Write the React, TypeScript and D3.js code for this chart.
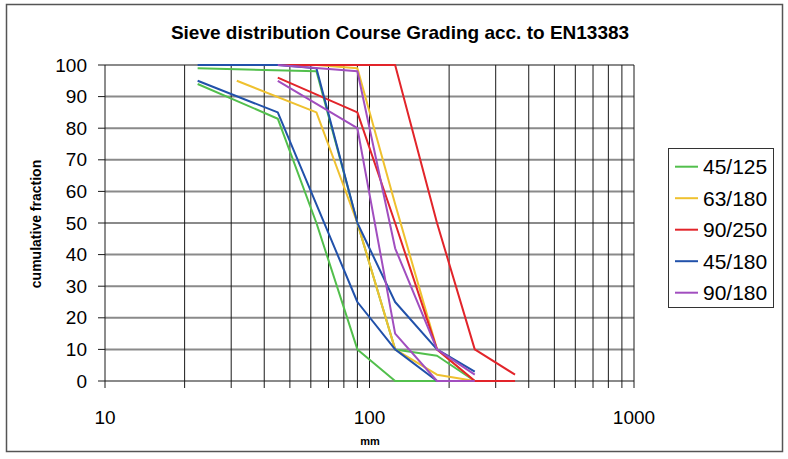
import React, { useRef, useEffect } from 'react';
import * as d3 from 'd3';

type Punto = [number, number];

// sieve size (mm) / cumulative fraction (%)
const cp45_125Inferior: Punto[] = [[22.4, 94], [45, 83], [63, 50], [90, 10], [125, 0], [180, 0]];
const cp45_125Superior: Punto[] = [[22.4, 99], [63, 98], [90, 50], [125, 10], [180, 8], [250, 0]];
const cp63_180Inferior: Punto[] = [[31.5, 95], [63, 85], [90, 50], [125, 10], [180, 2], [250, 0]];
const cp63_180Superior: Punto[] = [[31.5, 100], [63, 100], [90, 99], [125, 56], [180, 10], [250, 0]];
const cp90_250Inferior: Punto[] = [[45, 96], [90, 85], [125, 50], [180, 10], [250, 0], [355, 0]];
const cp90_250Superior: Punto[] = [[45, 100], [125, 100], [180, 50], [250, 10], [355, 2]];
const cp45_180Inferior: Punto[] = [[22.4, 95], [45, 85], [90, 25], [125, 10], [180, 0]];
const cp45_180Superior: Punto[] = [[22.4, 100], [45, 100], [63, 99], [90, 50], [125, 25], [180, 10], [250, 3]];
const cp90_180Inferior: Punto[] = [[45, 95], [90, 80], [125, 15], [180, 0], [250, 0]];
const cp90_180Superior: Punto[] = [[45, 100], [90, 98], [125, 42], [180, 10], [250, 2]];

const nombres = ['45/125', '63/180', '90/250', '45/180', '90/180'];
const colores = ['#52bf4c', '#efc12f', '#e2242a', '#2151aa', '#a14ebf'];
const curvas = [
  [cp45_125Inferior, cp45_125Superior],
  [cp63_180Inferior, cp63_180Superior],
  [cp90_250Inferior, cp90_250Superior],
  [cp45_180Inferior, cp45_180Superior],
  [cp90_180Inferior, cp90_180Superior],
];

const yTicks = [0, 10, 20, 30, 40, 50, 60, 70, 80, 90, 100];
const xEtiquetas = [10, 100, 1000];

const fuente = '"Liberation Sans", Arial, sans-serif';

const App: React.FC = () => {
  const svgRef = useRef<SVGSVGElement | null>(null);

  useEffect(() => {
    if (!svgRef.current) return;
    const width = 788;
    const height = 459;

    const svg = d3.select<SVGSVGElement, unknown>(svgRef.current)
      .attr('width', width)
      .attr('height', height)
      .style('background', '#fff');
    svg.selectAll('*').remove();

    const x = d3.scaleLog().domain([10, 1000]).range([105, 634]);
    const y = d3.scaleLinear().domain([0, 100]).range([381, 65]);

    // frame
    svg.append('rect')
      .attr('x', 6.5).attr('y', 4.5)
      .attr('width', 776).attr('height', 447)
      .attr('fill', 'none').attr('stroke', '#555').attr('stroke-width', 1.5);

    svg.append('text')
      .attr('x', 400).attr('y', 32)
      .attr('text-anchor', 'middle').attr('dominant-baseline', 'central')
      .style('font-family', fuente).style('font-size', '19px').style('font-weight', 'bold')
      .text('Sieve distribution Course Grading acc. to EN13383');

    // horizontal grid
    svg.append('g').selectAll('line')
      .data(yTicks)
      .enter().append('line')
      .attr('x1', x(10)).attr('x2', x(1000))
      .attr('y1', (d) => y(d)).attr('y2', (d) => y(d))
      .attr('stroke', '#8a8a8a').attr('stroke-width', 2);

    // vertical grid
    svg.append('g').selectAll('line')
      .data(x.ticks())
      .enter().append('line')
      .attr('x1', (d) => x(d)).attr('x2', (d) => x(d))
      .attr('y1', y(100)).attr('y2', y(0) + 7)
      .attr('stroke', '#1a1a1a').attr('stroke-width', 1);

    // y ticks
    svg.append('g').selectAll('line')
      .data(yTicks)
      .enter().append('line')
      .attr('x1', x(10) - 7).attr('x2', x(10))
      .attr('y1', (d) => y(d)).attr('y2', (d) => y(d))
      .attr('stroke', '#1a1a1a').attr('stroke-width', 1);

    svg.append('g').selectAll('text')
      .data(yTicks)
      .enter().append('text')
      .attr('x', 87).attr('y', (d) => y(d))
      .attr('text-anchor', 'end').attr('dominant-baseline', 'central')
      .style('font-family', fuente).style('font-size', '19px')
      .text((d) => d);

    svg.append('g').selectAll('text')
      .data(xEtiquetas)
      .enter().append('text')
      .attr('x', (d) => x(d)).attr('y', 417)
      .attr('text-anchor', 'middle').attr('dominant-baseline', 'central')
      .style('font-family', fuente).style('font-size', '19px')
      .text((d) => d);

    svg.append('text')
      .attr('x', 370).attr('y', 441)
      .attr('text-anchor', 'middle').attr('dominant-baseline', 'central')
      .style('font-family', fuente).style('font-size', '11px').style('font-weight', 'bold')
      .text('mm');

    svg.append('text')
      .attr('transform', 'translate(36,224) rotate(-90)')
      .attr('text-anchor', 'middle').attr('dominant-baseline', 'central')
      .style('font-family', fuente).style('font-size', '14px').style('font-weight', 'bold')
      .text('cumulative fraction');

    const linea = d3.line<Punto>()
      .x((d) => x(d[0]))
      .y((d) => y(d[1]));

    curvas.forEach((par, i) => {
      par.forEach((c) => {
        svg.append('path')
          .attr('d', linea(c) ?? '')
          .attr('fill', 'none')
          .attr('stroke', colores[i])
          .attr('stroke-width', 2)
          .attr('stroke-linejoin', 'round');
      });
    });

    // legend
    const leyenda = svg.append('g');
    leyenda.append('rect')
      .attr('x', 668.5).attr('y', 148.5)
      .attr('width', 105).attr('height', 159)
      .attr('fill', '#fff').attr('stroke', '#333').attr('stroke-width', 1);

    const filas = leyenda.selectAll('g.fila')
      .data(nombres)
      .enter().append('g')
      .attr('class', 'fila')
      .attr('transform', (d, i) => `translate(0,${166.7 + i * 31.5})`);

    filas.append('line')
      .attr('x1', 675).attr('x2', 698)
      .attr('stroke', (d, i) => colores[i]).attr('stroke-width', 2);

    filas.append('text')
      .attr('x', 703)
      .attr('dominant-baseline', 'central')
      .style('font-family', fuente).style('font-size', '21px')
      .text((d) => d);
  }, []);

  return (
    <svg ref={svgRef} style={{ position: 'absolute', left: 0, top: 0 }}></svg>
  );
};

export default App;
